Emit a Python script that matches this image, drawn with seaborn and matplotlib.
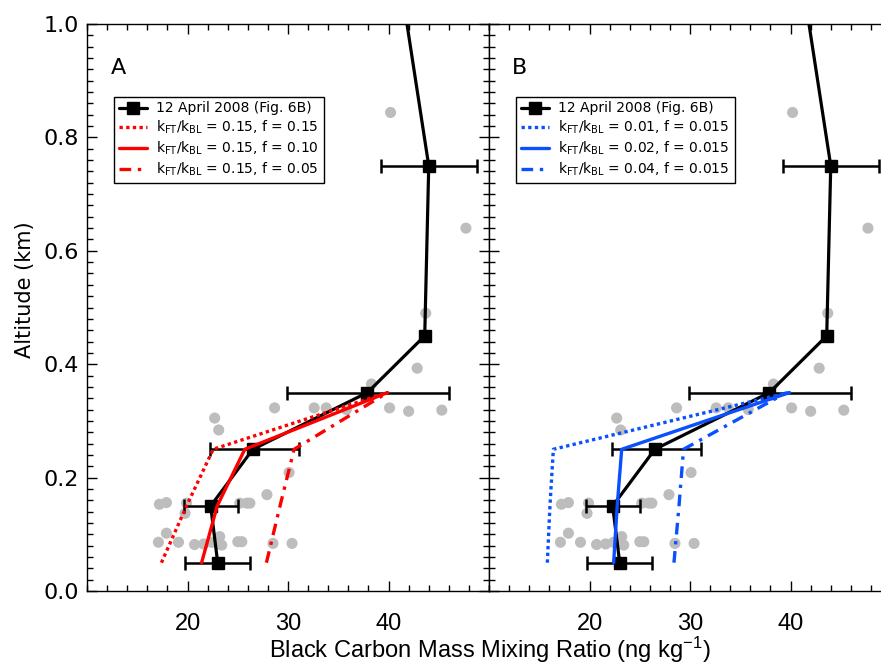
import numpy as np
import matplotlib
matplotlib.use("Agg")
import matplotlib.pyplot as plt
import seaborn as sns
from matplotlib.ticker import MultipleLocator, FixedLocator, FormatStrFormatter

# observed profile (12 April 2008, Fig. 6B)
obs_alt = [0.05, 0.15, 0.25, 0.35, 0.45, 0.75, 1.05]
obs_bc = [23.0, 22.3, 26.5, 37.9, 43.6, 44.0, 41.4]

# horizontal error bars
err_alt = [0.05, 0.15, 0.25, 0.35, 0.75]
err_mid = [23.0, 22.3, 26.5, 37.9, 44.0]
err_lo = [19.7, 19.6, 22.2, 29.9, 39.2]
err_hi = [26.2, 25.0, 31.1, 46.0, 48.8]

# individual samples (grey dots)
pts_bc = [28.66, 32.6, 33.8, 35.8, 40.1, 42.0, 45.3, 38.3,
          22.7, 23.1, 30.1, 27.9,
          17.2, 17.9, 19.9, 19.75, 25.2, 25.9, 26.2,
          17.9, 17.1, 19.1, 20.7, 21.6, 22.4, 23.2, 23.2, 23.4, 25.0, 25.4, 28.5, 30.4,
          40.2, 47.7, 43.7, 42.85]
pts_alt = [0.323, 0.323, 0.323, 0.320, 0.323, 0.317, 0.319, 0.365,
           0.305, 0.284, 0.209, 0.170,
           0.153, 0.156, 0.155, 0.137, 0.155, 0.155, 0.155,
           0.102, 0.086, 0.086, 0.082, 0.083, 0.086, 0.096, 0.083, 0.081, 0.087, 0.087, 0.084, 0.084,
           0.844, 0.640, 0.490, 0.393]

# model profiles
model_alt = [0.05, 0.15, 0.25, 0.35]
# panel A: kFT/kBL = 0.15, varying f
a_f015 = [17.4, 19.9, 22.55, 39.9]
a_f010 = [21.4, 22.95, 25.7, 39.9]
a_f005 = [27.85, 29.2, 30.6, 39.9]
# panel B: f = 0.015, varying kFT/kBL
b_k001 = [15.8, 16.06, 16.4, 39.8]
b_k002 = [22.4, 22.75, 23.2, 39.9]
b_k004 = [28.4, 28.9, 29.35, 39.6]

labels_a = [r"$k_{FT}/k_{BL}$ = 0.15, f = 0.15",
            r"$k_{FT}/k_{BL}$ = 0.15, f = 0.10",
            r"$k_{FT}/k_{BL}$ = 0.15, f = 0.05"]
labels_b = [r"$k_{FT}/k_{BL}$ = 0.01, f = 0.015",
            r"$k_{FT}/k_{BL}$ = 0.02, f = 0.015",
            r"$k_{FT}/k_{BL}$ = 0.04, f = 0.015"]

sns.set_style("ticks")
plt.rcParams["font.family"] = ["DejaVu Sans"]
plt.rcParams["mathtext.default"] = "regular"
plt.rcParams["text.color"] = "black"
plt.rcParams["xtick.labelcolor"] = "black"
plt.rcParams["ytick.labelcolor"] = "black"

narrow = ["Liberation Sans", "DejaVu Sans"]

fig = plt.figure(figsize=(8.81, 6.67), dpi=100)
w = 0.4563
ax_a = fig.add_axes([0.0988, 0.1139, w, 0.8501])
ax_b = fig.add_axes([0.0988 + w, 0.1139, w, 0.8501])

styles = [(0, (1, 1)), "-", (0, (3.5, 2, 1, 2))]


def draw_panel(ax, models, labels, color, tag):
    sns.scatterplot(x=pts_bc, y=pts_alt, ax=ax, color="#bdbdbd", s=64,
                    edgecolor="none", zorder=1, legend=False)
    ax.errorbar(err_mid, err_alt,
                xerr=[np.subtract(err_mid, err_lo), np.subtract(err_hi, err_mid)],
                fmt="none", ecolor="black", elinewidth=1.8, capsize=5,
                capthick=1.8, zorder=2)
    ax.plot(obs_bc, obs_alt, color="black", lw=2.3, marker="s", ms=9,
            zorder=3, label="12 April 2008 (Fig. 6B)")
    for vals, lab, ls in zip(models, labels, styles):
        sns.lineplot(x=vals, y=model_alt, ax=ax, sort=False, estimator=None,
                     color=color, lw=2.4, linestyle=ls, label=lab, zorder=4)
    ax.set_xlim(10, 50)
    ax.set_ylim(0, 1.0)
    ax.xaxis.set_major_locator(FixedLocator([20, 30, 40]))
    ax.xaxis.set_minor_locator(MultipleLocator(2))
    ax.yaxis.set_major_locator(MultipleLocator(0.2))
    ax.yaxis.set_minor_locator(MultipleLocator(0.02))
    ax.yaxis.set_major_formatter(FormatStrFormatter("%.1f"))
    ax.tick_params(which="both", direction="in", top=True, right=True,
                   color="black", width=1)
    ax.tick_params(which="major", length=7)
    ax.tick_params(which="minor", length=4)
    ax.tick_params(axis="x", labelsize=17, pad=16)
    for t in ax.get_xticklabels():
        t.set_family(narrow)
    for s in ax.spines.values():
        s.set_linewidth(1.0)
        s.set_color("black")
    ax.set_xlabel("")
    ax.set_ylabel("")
    ax.text(0.077, 0.922, tag, transform=ax.transAxes, fontsize=16,
            ha="center", va="center")
    leg = ax.legend(loc="upper left", bbox_to_anchor=(0.067, 0.872),
                    fontsize=10, frameon=True, fancybox=False, framealpha=1,
                    edgecolor="black", labelspacing=0.25, handlelength=2.0,
                    handletextpad=0.7, borderpad=0.35, borderaxespad=0)
    leg.get_frame().set_linewidth(1.0)


draw_panel(ax_a, [a_f015, a_f010, a_f005], labels_a, "#ff0000", "A")
draw_panel(ax_b, [b_k001, b_k002, b_k004], labels_b, "#0a50ff", "B")

ax_a.tick_params(axis="y", labelsize=16, pad=6)
ax_b.tick_params(axis="y", labelleft=False)

fig.text(0.028, 0.565, "Altitude (km)", rotation=90, fontsize=15,
         ha="center", va="center")
fig.text(0.556, 0.026, "Black Carbon Mass Mixing Ratio (ng kg$^{-1}$)",
         fontsize=17, ha="center", va="center", family=narrow)

fig.savefig("out.png", dpi=100)
